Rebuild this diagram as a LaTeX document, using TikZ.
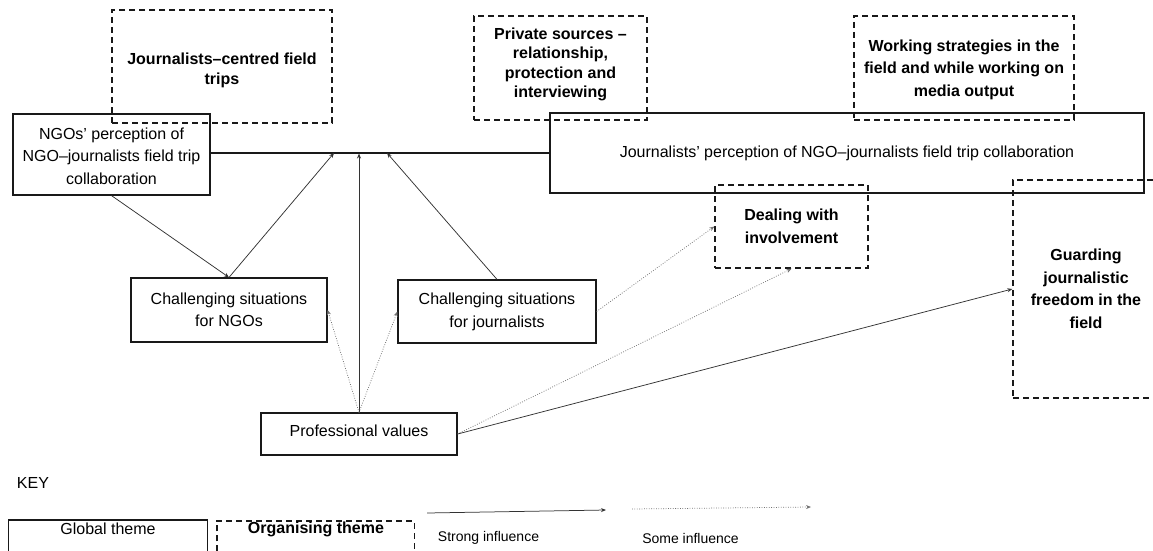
\documentclass[tikz,border=0pt]{standalone}
\usepackage{fontspec}
\setmainfont{Liberation Sans}
\usetikzlibrary{arrows.meta}
\begin{document}
\begin{tikzpicture}[x=1pt,y=-1pt,
  boxline/.style={draw=black!90, line width=1.2pt, inner sep=0pt},
  dashline/.style={draw=black!90, line width=1.4pt, dash pattern=on 6pt off 4pt, inner sep=0pt},
  global/.style={boxline, align=center, font=\fontsize{16}{22.5}\selectfont},
  organising/.style={dashline, align=center, font=\fontsize{16}{22.5}\selectfont\bfseries},
  keylabel/.style={inner sep=0pt, font=\fontsize{16}{18}\selectfont},
  strong/.style={draw=black!80, line width=0.75pt, -{Stealth[length=5pt,width=4pt]}},
  some/.style={draw=black!55, line width=0.75pt, dash pattern=on 0.8pt off 1.6pt,
    -{Stealth[length=5pt,width=4pt]}},
  keytext/.style={inner sep=0pt, font=\fontsize{14}{16}\selectfont},
]
\useasboundingbox (0,0) rectangle (1153,551);

% global themes
\node[global, minimum width=197pt, minimum height=81pt] (ngoP) at (111.5,154.5)
  {\rule{0pt}{14.5pt}NGOs’ perception of\\NGO–journalists field trip\\collaboration};
\node[global, minimum width=594pt, minimum height=80pt] (jP) at (847,153)
  {Journalists’ perception of NGO–journalists field trip collaboration};
\node[global, minimum width=196pt, minimum height=64pt, font=\fontsize{16}{22}\selectfont] (chN) at (229,310)
  {Challenging situations\\for NGOs};
\node[global, minimum width=198pt, minimum height=63pt, font=\fontsize{16}{23}\selectfont] (chJ) at (497,311.5)
  {Challenging situations\\for journalists};
\node[global, minimum width=196pt, minimum height=42pt] (pv) at (359,434)
  {Professional values\rule[-6pt]{0pt}{1pt}};

% organising themes
\node[organising, minimum width=220pt, minimum height=113pt, font=\fontsize{16}{20}\selectfont\bfseries] (jcft) at (222,66.5)
  {\rule{0pt}{19pt}Journalists–centred field\\trips};
\node[organising, minimum width=173pt, minimum height=104pt, font=\fontsize{16}{19.3}\selectfont\bfseries] (priv) at (560.5,68)
  {\rule{0pt}{13pt}Private sources –\\relationship,\\protection and\\interviewing\rule[-12pt]{0pt}{1pt}};
\node[organising, minimum width=220pt, minimum height=104pt] (work) at (964,68)
  {\rule{0pt}{14.5pt}Working strategies in the\\field and while working on\\media output};
\node[organising, minimum width=153pt, minimum height=83pt, font=\fontsize{16}{23}\selectfont\bfseries] (deal) at (791.5,226.5)
  {Dealing with\\involvement};
\node[organising, minimum width=146pt, minimum height=218pt] (guard) at (1086,289)
  {Guarding\\journalistic\\freedom in the\\field};

% joining line between global themes
\draw[boxline] (jP.west -| ngoP.east) coordinate (lj) -- (jP.west);
\coordinate (c1) at (334,153);
\coordinate (c2) at (359,153.5);
\coordinate (c3) at (387,153);

% connectors
\draw[strong] (ngoP.south) -- (chN.north);
\draw[strong] (chN.north) -- (c1);
\draw[strong] (pv.north) -- (c2);
\draw[strong] (chJ.north) -- (c3);
\draw[some] (pv.north) -- (chN.east);
\draw[some] (pv.north) -- (chJ.west);
\draw[some] (chJ.east) -- (deal.west);
\draw[some] (pv.east) -- (deal.south);
\draw[strong] (pv.east) -- (guard.west);

% key
\node[keylabel] (key) at (33,483) {KEY};
\node[inner sep=0pt, anchor=north, minimum width=198pt, minimum height=60pt] (gk) at (108,520) {};
\node[inner sep=0pt, anchor=north, minimum width=197pt, minimum height=60pt] (ok) at (315.5,521) {};
\draw[boxline] (gk.south west) -- (gk.north west) -- (gk.north east) -- (gk.south east);
\draw[dashline] (ok.south west) -- (ok.north west) -- (ok.north east) -- (ok.south east);
\node[keylabel] (gkt) at (108,529) {Global theme};
\node[keylabel, font=\fontsize{16}{18}\selectfont\bfseries] (okt) at (316,529) {Organising theme};
\coordinate (ks1) at (427,513);
\coordinate (ks2) at (606,510);
\coordinate (km1) at (632,509);
\coordinate (km2) at (811,507);
\draw[strong] (ks1) -- (ks2);
\draw[some] (km1) -- (km2);
\node[keytext] (kst) at (488.5,538) {Strong influence};
\node[keytext] (kmt) at (690.5,538) {Some influence};
\end{tikzpicture}
\end{document}
